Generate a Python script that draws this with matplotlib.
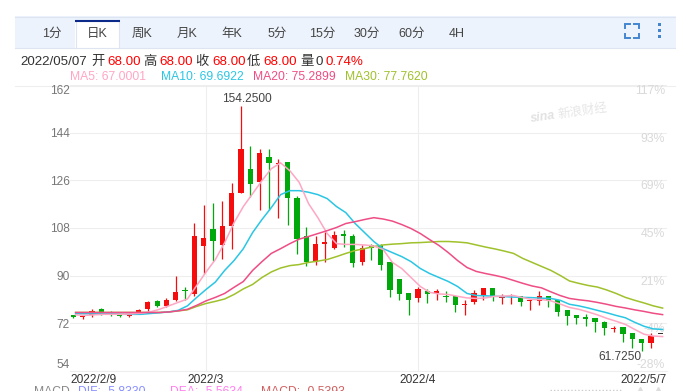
import matplotlib
matplotlib.use("Agg")
import matplotlib.pyplot as plt
from matplotlib.patches import Rectangle
import numpy as np

plt.rcParams['font.family'] = ['Liberation Sans', 'Noto Sans CJK SC', 'DejaVu Sans']

# daily candles, 2022/2/9 to 2022/5/7
opens = [75.0, 74.4, 75.0, 77.3, 76.0, 75.3, 74.8, 75.8, 77.6, 80.3, 78.4, 81.0, 84.4, 83.2, 101.1, 107.8,
         101.4, 108.6, 121.3, 130.4, 125.5, 134.9, 132.3, 133.0, 119.5, 105.1, 95.3, 102.1, 100.6, 105.9, 105.1, 95.0,
         101.4, 101.4, 95.0, 88.9, 83.3, 81.4, 84.1, 83.3, 82.5, 82.2, 78.8, 79.9, 82.5, 85.2, 81.4, 82.2,
         82.2, 80.3, 80.3, 82.2, 80.7, 76.9, 75.0, 74.3, 73.9, 72.6, 69.7, 70.5, 68.2, 66.0, 64.5, 68.0]
closes = [74.4, 74.6, 76.8, 75.8, 75.8, 74.9, 75.0, 76.9, 79.9, 78.4, 80.7, 83.7, 84.1, 104.8, 104.4, 103.0,
          108.9, 121.3, 137.9, 124.7, 136.4, 132.6, 132.6, 119.5, 104.0, 95.3, 101.8, 102.9, 105.5, 104.8, 94.6, 100.6,
          100.6, 94.2, 84.4, 82.9, 81.0, 84.8, 83.2, 84.1, 81.8, 78.8, 79.2, 83.3, 85.2, 81.8, 81.8, 82.5,
          79.9, 80.7, 82.5, 80.3, 76.1, 74.6, 73.9, 73.5, 72.4, 70.1, 70.1, 68.1, 66.0, 64.6, 67.1, 68.0]
highs = [75.1, 74.7, 77.3, 77.8, 76.5, 75.6, 75.4, 77.3, 80.3, 80.7, 81.4, 89.7, 85.9, 110.0, 116.8, 117.5,
         118.3, 125.1, 154.25, 139.1, 137.9, 137.9, 133.9, 133.0, 120.2, 108.5, 105.1, 106.6, 107.0, 107.4, 105.9, 101.4,
         102.0, 102.1, 95.0, 88.9, 83.3, 85.9, 84.8, 84.8, 84.1, 82.2, 81.0, 84.4, 85.2, 85.2, 82.9, 82.9,
         82.5, 80.7, 84.1, 82.5, 80.7, 76.9, 75.0, 75.4, 73.9, 72.8, 70.9, 70.5, 68.2, 66.0, 68.2, 68.0]
lows = [74.0, 73.8, 74.4, 75.0, 74.6, 74.4, 74.4, 75.4, 76.5, 78.0, 78.0, 80.3, 81.0, 82.5, 90.5, 95.5,
        96.4, 100.0, 121.3, 119.8, 114.9, 114.9, 111.7, 109.3, 98.0, 93.5, 94.2, 95.3, 99.9, 101.0, 93.1, 94.2,
        96.1, 92.0, 81.8, 80.7, 75.0, 79.9, 79.5, 81.0, 79.9, 76.1, 75.3, 79.2, 80.7, 80.3, 79.2, 79.4,
        78.4, 76.9, 78.8, 78.0, 74.6, 71.5, 71.6, 70.9, 68.6, 67.5, 68.6, 64.8, 62.6, 61.725, 62.5, 68.0]

ma5 = [75.2, 75.0, 75.2, 75.4, 75.4, 75.4, 75.6, 75.8, 76.3, 77.3, 78.6, 79.9, 81.2, 86.3, 91.4, 96.1,
       102.5, 110.0, 116.1, 121.0, 125.9, 130.4, 132.6, 129.6, 125.2, 117.2, 111.9, 105.9, 102.1, 101.8, 101.8, 101.6,
       101.2, 99.9, 95.0, 92.7, 89.3, 85.9, 83.7, 83.1, 82.9, 82.2, 81.6, 81.4, 81.6, 82.2, 82.3, 82.5,
       81.7, 81.0, 81.0, 80.5, 79.3, 78.0, 77.3, 76.3, 75.2, 73.9, 72.8, 71.6, 69.7, 67.9, 67.2, 67.0001]
ma10 = [75.6, 75.6, 75.6, 75.6, 75.6, 75.4, 75.4, 75.4, 75.7, 76.0, 76.3, 76.9, 78.6, 81.8, 84.8, 87.6,
        92.0, 95.7, 100.2, 106.3, 111.2, 115.7, 120.6, 122.1, 122.1, 121.5, 120.6, 119.1, 116.1, 113.8, 109.7, 106.3,
        102.9, 100.2, 98.7, 97.2, 95.3, 92.7, 90.8, 89.3, 87.8, 85.9, 83.3, 82.5, 82.4, 82.2, 82.1, 81.9,
        81.8, 81.7, 81.5, 81.4, 80.7, 79.2, 78.6, 77.8, 76.9, 76.0, 75.0, 74.1, 72.4, 70.9, 69.9, 69.6922]
ma20 = [76.1, 76.1, 76.1, 76.1, 76.1, 76.1, 76.1, 76.1, 76.1, 76.1, 76.3, 76.7, 77.3, 78.8, 80.5, 81.8,
        83.3, 85.6, 87.8, 92.0, 95.3, 98.4, 100.2, 102.1, 103.8, 104.8, 105.9, 107.0, 108.2, 109.7, 110.4, 111.2,
        111.9, 111.4, 110.6, 109.3, 107.8, 105.9, 103.6, 101.4, 98.7, 95.7, 93.1, 91.6, 90.8, 90.1, 89.3, 88.2,
        87.1, 86.1, 85.4, 83.9, 82.5, 81.4, 80.9, 80.5, 79.9, 79.2, 78.4, 77.8, 77.1, 76.5, 75.8, 75.2899]
ma30 = [76.1, 76.1, 76.1, 76.1, 76.1, 76.1, 76.1, 76.1, 76.1, 76.1, 76.3, 76.7, 77.1, 78.4, 79.5, 80.3,
        81.2, 82.9, 85.0, 86.7, 89.3, 91.4, 92.9, 93.8, 94.2, 95.0, 95.5, 96.1, 97.2, 98.4, 99.5, 100.2,
        101.0, 101.6, 101.9, 102.1, 102.4, 102.5, 102.7, 102.9, 102.9, 102.7, 102.4, 101.6, 100.8, 100.1, 99.3, 98.4,
        96.5, 95.0, 93.5, 92.0, 90.1, 88.0, 87.1, 86.3, 85.7, 84.6, 83.3, 81.8, 80.7, 79.7, 78.6, 77.762]

price_ticks = [162, 144, 126, 108, 90, 72, 54]
pct_labels = ['117%', '93%', '69%', '45%', '21%', '-4%', '-28%']
date_labels = ['2022/2/9', '2022/3', '2022/4', '2022/5/7']
month_pos = [14.2, 37]
tab_labels = ['1分', '日K', '周K', '月K', '年K', '5分', '15分', '30分', '60分', '4H']

W, H = 676, 391
RED, GREEN, DARK = '#f50d0d', '#00a80b', '#333333'
GRID = '#eeeeee'

fig = plt.figure(figsize=(W / 100, H / 100), dpi=100)

# page furniture is laid out in pixels on a full figure axes
ui = fig.add_axes([0, 0, 1, 1])
ui.set_xlim(0, W)
ui.set_ylim(H, 0)
ui.axis('off')

ui.add_patch(Rectangle((15, 16), W - 15, 32, fc='#edf3fc', ec='none'))
ui.plot([15, W], [16.5, 16.5], color='#dde5f2', lw=0.8)
ui.plot([15, W], [47.5, 47.5], color='#dde5f2', lw=0.8)
ui.add_patch(Rectangle((75, 20), 44, 28, fc='white', ec='none'))
ui.plot([75.5, 75.5], [21, 48], color='#dde5f2', lw=0.8)
ui.plot([119, 119], [21, 48], color='#dde5f2', lw=0.8)
ui.plot([75, 119.5], [21, 21], color='#0b2a8a', lw=1.5, solid_capstyle='butt')
ui.plot([15, W], [85.5, 85.5], color=GRID, lw=0.8)

for i, lab in enumerate(tab_labels):
    ui.text(52 + 45 * i, 34, lab, ha='center', va='center', fontsize=9, color='#444444')

# fullscreen brackets and menu dots
BLUE = '#4485d0'
for xs, ys in [([625, 625, 630], [28, 24, 24]), ([634, 639, 639], [24, 24, 28]),
               ([625, 625, 630], [34, 38, 38]), ([634, 639, 639], [38, 38, 34])]:
    ui.plot(xs, ys, color=BLUE, lw=1.4, solid_joinstyle='miter')
for yy in [24.5, 30.5, 36.5]:
    ui.add_patch(Rectangle((657.5, yy - 1.5), 3, 3, fc=BLUE, ec='none'))

# quote line
quote = [(20, '2022/05/07', DARK), (91, '开', DARK), (107, '68.00', 'red'), (143, '高', DARK),
         (159, '68.00', 'red'), (195, '收', DARK), (212, '68.00', 'red'), (247, '低', DARK),
         (263, '68.00', 'red'), (300, '量', DARK), (316, '0', DARK), (326, '0.74%', 'red')]
for x, s, c in quote:
    ui.text(x, 62, s, ha='left', va='center', fontsize=9.6, color=c)

ma_colors = ['#ffa6c3', '#2ac6e4', '#ef4d85', '#9fc12b']
ma_names = ['MA5: 67.0001', 'MA10: 69.6922', 'MA20: 75.2899', 'MA30: 77.7620']
for x, s, c in zip([70, 161, 253, 345], ma_names, ma_colors):
    ui.text(x, 77.5, s, ha='left', va='center', fontsize=8.7, color=c)

# MACD line is cut off by the bottom edge
for x, s, c in [(34, 'MACD', '#888888'), (78, 'DIF: -5.8330', '#8a90ff'),
                (170, 'DEA: -5.5634', '#ff80ee'), (261, 'MACD: -0.5393', '#d06060')]:
    ui.text(x, 392, s, ha='left', va='center', fontsize=8.7, color=c)

# scroll bar remnants at the bottom
ui.plot([550, 622], [390, 390], color='#cccccc', lw=1, ls=(0, (1, 1.5)))
ui.plot([640, 658], [390, 390], color='#dddddd', lw=0, marker='^', ms=4)

# watermark
ui.text(543, 117, 'sina', ha='center', va='center', fontsize=9, color='#e2e2e2',
        style='italic', weight='bold', rotation=8)
ui.text(583, 112, '新浪财经', ha='center', va='center', fontsize=9, color='#e6e6e6', rotation=8)

# chart
x_left = -0.354
x_right = 63.72
ax = fig.add_axes([70 / W, (H - 371) / H, (667 - 70) / W, (371 - 85) / H])
ax.patch.set_alpha(0)
ax.set_xlim(x_left, x_right)
ax.set_ylim(54, 162)
for name in ['left', 'right', 'top']:
    ax.spines[name].set_visible(False)
ax.spines['bottom'].set_color(GRID)
ax.spines['bottom'].set_linewidth(0.8)

ax.set_yticks(price_ticks)
ax.set_yticklabels([str(v) for v in price_ticks], fontsize=8.6, color='#777777')
ax.get_yticklabels()[0].set_va('top')
ax.get_yticklabels()[-1].set_va('bottom')
ax.tick_params(axis='both', length=0)
ax.tick_params(axis='y', pad=0)
ax.grid(axis='y', color=GRID, lw=0.8)
ax.set_axisbelow(True)
ax.vlines(month_pos, 54, 162, color=GRID, lw=0.8, zorder=0)

ax.set_xticks([x_left] + month_pos + [x_right])
ax.set_xticklabels(date_labels, fontsize=8.6, color=DARK)
ax.tick_params(axis='x', pad=2)
xlabs = ax.get_xticklabels()
xlabs[0].set_ha('left')
xlabs[-1].set_ha('right')

# percent scale sits just inside the right edge, under the gridlines
pct_tr = ax.get_yaxis_transform()
for v, lab in zip(price_ticks, pct_labels):
    ax.text(0.9965, v, lab, transform=pct_tr, ha='right', va='bottom' if v == 54 else 'top',
            fontsize=8.8, color='#d9d9d9', zorder=1)

idx = np.arange(len(opens))
o = np.array(opens)
c = np.array(closes)
cols = [DARK if a == b else (RED if b > a else GREEN) for a, b in zip(o, c)]
ax.vlines(idx[:-1], lows[:-1], highs[:-1], colors=cols[:-1], lw=0.9, zorder=2)
ax.bar(idx, np.maximum(np.abs(c - o), 0.4), bottom=np.minimum(o, c), width=0.56, color=cols, lw=0, zorder=2)

for vals, col, z in zip([ma30, ma10, ma5, ma20], [ma_colors[3], ma_colors[1], ma_colors[0], ma_colors[2]], [3, 4, 5, 6]):
    ax.plot(idx + 0.25, vals, color=col, lw=1.1, zorder=z)

ax.annotate('154.2500', (18, 154.25), xytext=(6, 7), textcoords='offset pixels', ha='center', va='center',
            fontsize=8.6, color='#444444', zorder=7, annotation_clip=False)
ax.annotate('61.7250', (61, 61.725), xytext=(0, -6), textcoords='offset pixels', ha='right', va='center',
            fontsize=8.6, color='#444444', zorder=7)

fig.savefig('out.png', dpi=100)
